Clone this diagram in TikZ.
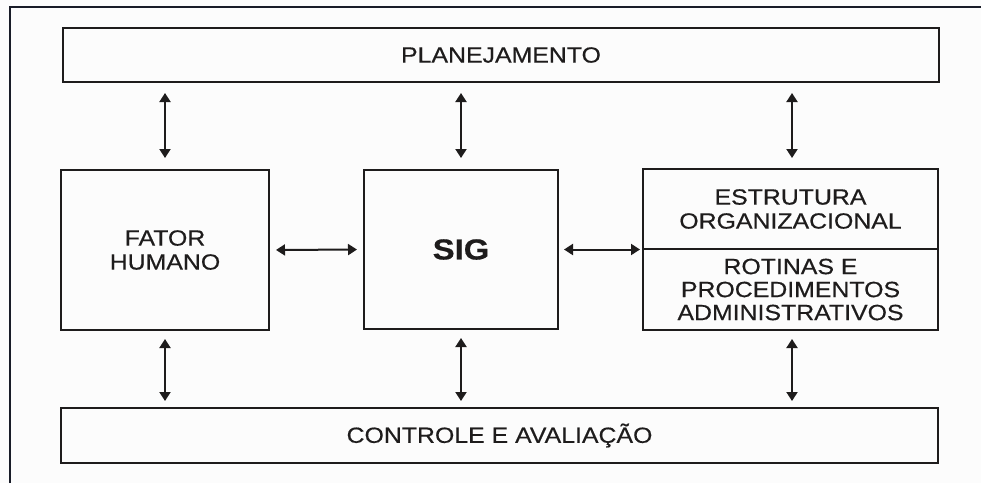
\documentclass[tikz,border=0pt]{standalone}
\usepackage{fontspec}
\setmainfont{Liberation Sans}[FakeStretch=1.13,FakeBold=0.5]
\usetikzlibrary{arrows.meta}
\definecolor{bg}{RGB}{252,252,252}
\definecolor{ink}{RGB}{30,28,28}
\definecolor{frameink}{RGB}{25,28,40}
\begin{document}
\begin{tikzpicture}[x=1pt,y=-1pt,
  box/.style={draw=ink,line width=2pt,rectangle,inner sep=0pt,align=center,
    font=\fontsize{22}{24}\selectfont,text=ink},
  arr/.style={draw=ink,line width=2pt,{Triangle[length=9pt,width=11pt]}-{Triangle[length=9pt,width=11pt]}}]
\fill[bg] (0,0) rectangle (981,483);
\useasboundingbox (0,0) rectangle (981,483);
% frame
\draw[frameink,line width=2pt] (10,483) -- (10,6.5) -- (981,6.5);
% boxes
\node[box,minimum width=876pt,minimum height=54pt] (plan) at (501,55) {PLANEJAMENTO};
\node[box,minimum width=877pt,minimum height=55pt] (ctrl) at (499.5,435.5) {CONTROLE E AVALIAÇÃO};
\node[box,minimum width=208pt,minimum height=160pt] (fator) at (165,250) {FATOR\\HUMANO};
\node[box,minimum width=194pt,minimum height=159pt,font=\bfseries\fontsize{29}{30}\selectfont] (sig) at (461,249.5) {SIG};
\node[box,minimum width=295pt,minimum height=80pt] (estr) at (790.5,209) {ESTRUTURA\\ORGANIZACIONAL};
\node[box,minimum width=295pt,minimum height=81pt,font=\fontsize{22}{23}\selectfont] (rot) at (790.5,289.5) {ROTINAS E\\PROCEDIMENTOS\\ADMINISTRATIVOS};
% vertical connectors
\draw[arr,shorten <=10pt,shorten >=11pt] (plan.south -| fator.north) -- (fator.north);
\draw[arr,shorten <=10pt,shorten >=11pt] (plan.south -| sig.north) -- (sig.north);
\draw[arr,shorten <=10pt,shorten >=10pt] (plan.south -| estr.north) ++(1.5,0) coordinate (pe) -- (pe |- estr.north);
\draw[arr,shorten <=8pt,shorten >=6pt] (fator.south) -- (fator.south |- ctrl.north);
\draw[arr,shorten <=8pt,shorten >=6pt] (sig.south) -- (sig.south |- ctrl.north);
\draw[arr,shorten <=8pt,shorten >=6pt] (rot.south) ++(1.5,0) coordinate (re) -- (re |- ctrl.north);
% horizontal connectors
\draw[arr,shorten <=6pt,shorten >=6pt] (fator.east) -- (sig.west);
\draw[arr,shorten <=5pt,shorten >=2pt] (sig.east) -- (sig.east -| estr.west);
\end{tikzpicture}
\end{document}
